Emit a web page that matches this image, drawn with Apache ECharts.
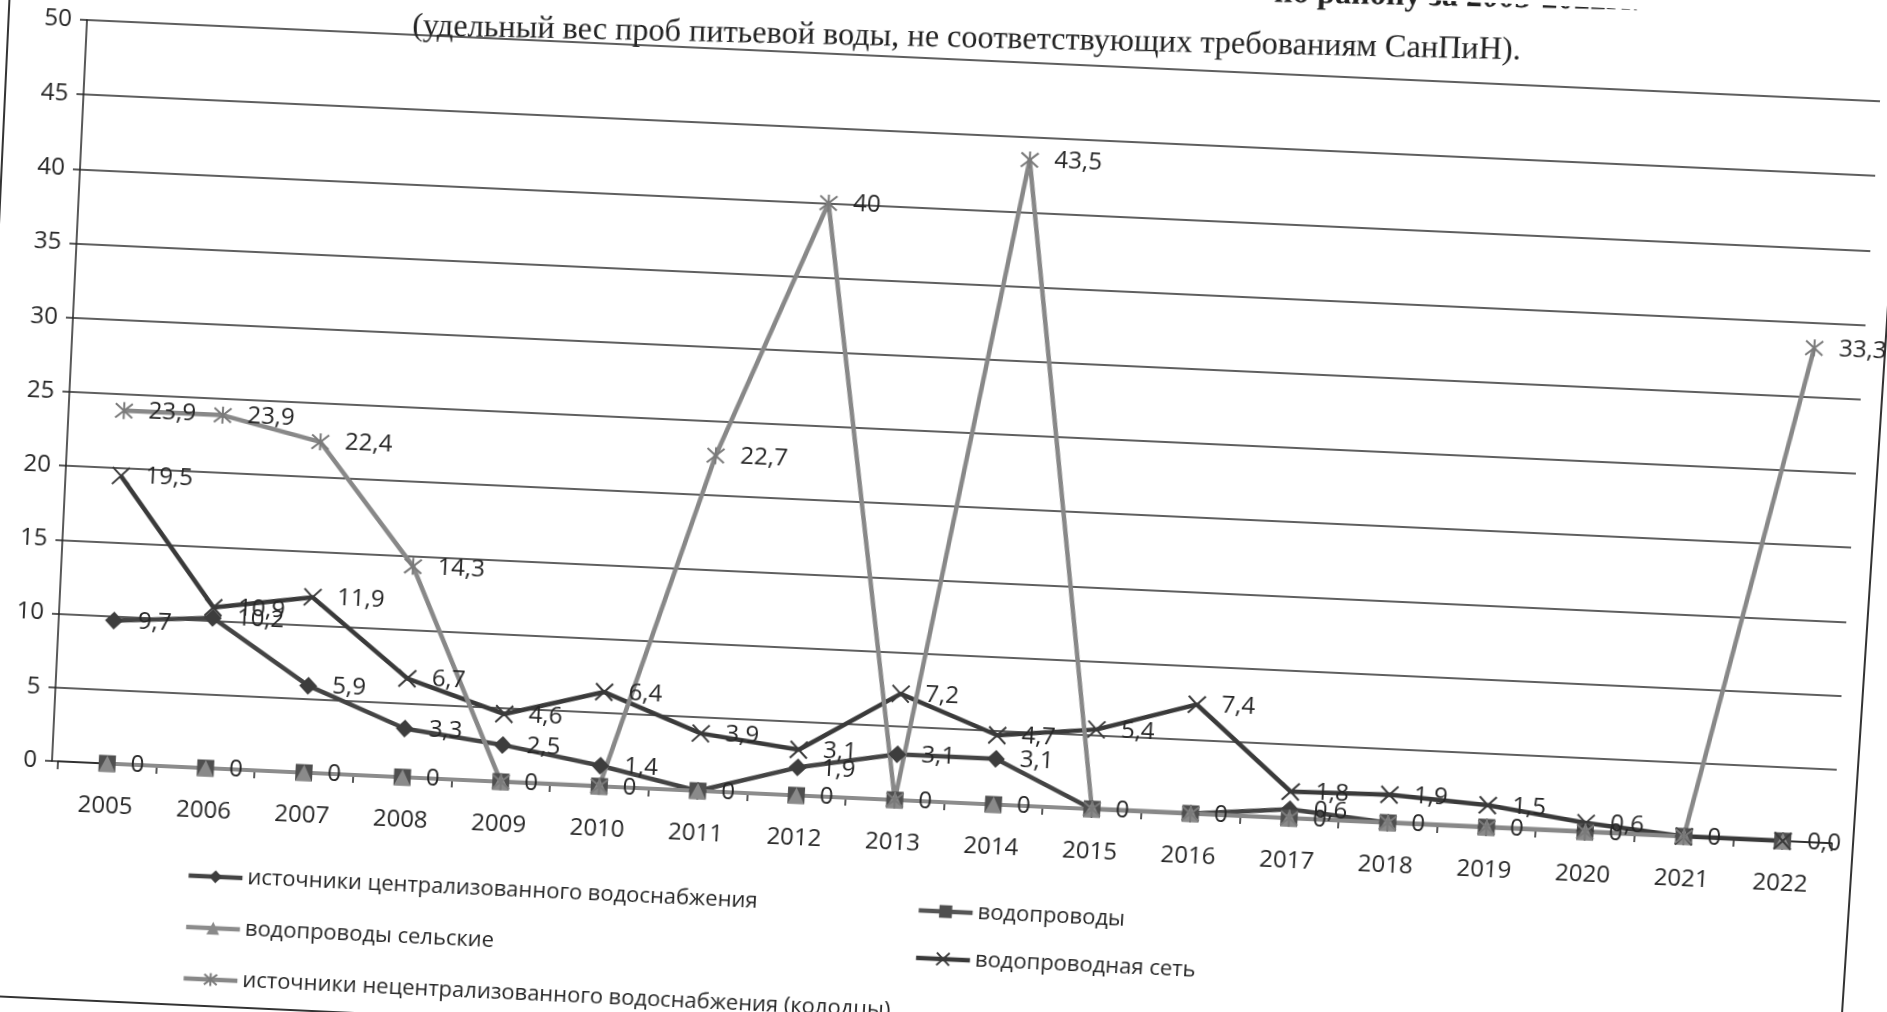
<!DOCTYPE html>
<html><head><meta charset="utf-8">
<script src="https://cdn.jsdelivr.net/npm/echarts@6/dist/echarts.min.js"></script>
<style>
html,body{margin:0;padding:0;width:1887px;height:1012px;overflow:hidden;background:#fff;}
#c{position:absolute;left:0;top:0;width:1920px;height:1100px;transform-origin:0 0;}
</style></head><body><div id="c"></div>
<script>
const years = ['2005','2006','2007','2008','2009','2010','2011','2012','2013','2014','2015','2016','2017','2018','2019','2020','2021','2022'];
const central     = [9.7,10.2,5.9,3.3,2.5,1.4,0,1.9,3.1,3.1,0,0,0.6,0,0,0,0,0];
const vodoprovody = [0,0,0,0,0,0,0,0,0,0,0,0,0,0,0,0,0,0];
const selskie     = [0,0,0,0,0,0,0,0,0,0,0,0,0,0,0,0,0,0];
const set         = [19.5,10.9,11.9,6.7,4.6,6.4,3.9,3.1,7.2,4.7,5.4,7.4,1.8,1.9,1.5,0.6,0,0];
const kolodcy     = [23.9,23.9,22.4,14.3,0,0,22.7,40,0,43.5,0,0,0,0,0,0,0,33.3];
const names = [
  'источники централизованного водоснабжения',
  'водопроводы',
  'водопроводы сельские',
  'водопроводная сеть',
  'источники нецентрализованного водоснабжения (колодцы)'
];
const titleLine1 = 'по району за 2005-2022гг.';
const titleLine2 = '(удельный вес проб питьевой воды, не соответствующих требованиям СанПиН).';

// --- page layout: a reference frame rectangle, and where the scanned page shows its corners ---
const FRAME = { left: 84, top: 80, width: 1775, height: 742 };
const frameQuadOnPage = [[87, 20], [1874, 101], [1826, 843], [52, 761]]; // TL, TR, BR, BL
const AXIS_GAP = 6; // first category sits slightly further from the value axis
const GRID = { left: FRAME.left + AXIS_GAP, top: FRAME.top, width: FRAME.width, height: FRAME.height };

function homographyCSS(src, dst) {
  const A = [], b = [];
  for (let i = 0; i < 4; i++) {
    const [x, y] = src[i], [X, Y] = dst[i];
    A.push([x, y, 1, 0, 0, 0, -x * X, -y * X]); b.push(X);
    A.push([0, 0, 0, x, y, 1, -x * Y, -y * Y]); b.push(Y);
  }
  const n = 8;
  for (let c = 0; c < n; c++) {
    let p = c;
    for (let r = c + 1; r < n; r++) if (Math.abs(A[r][c]) > Math.abs(A[p][c])) p = r;
    [A[c], A[p]] = [A[p], A[c]]; [b[c], b[p]] = [b[p], b[c]];
    for (let r = 0; r < n; r++) {
      if (r === c) continue;
      const f = A[r][c] / A[c][c];
      for (let k = c; k < n; k++) A[r][k] -= f * A[c][k];
      b[r] -= f * b[c];
    }
  }
  const h = b.map((v, i) => v / A[i][i]);
  return `matrix3d(${h[0]},${h[3]},0,${h[6]},${h[1]},${h[4]},0,${h[7]},0,0,1,0,${h[2]},${h[5]},0,1)`;
}
const srcQuad = [[FRAME.left, FRAME.top], [FRAME.left + FRAME.width, FRAME.top],
  [FRAME.left + FRAME.width, FRAME.top + FRAME.height], [FRAME.left, FRAME.top + FRAME.height]];
document.getElementById('c').style.transform = homographyCSS(srcQuad, frameQuadOnPage);

const FONT = 'Open Sans';
const fmt = v => String(v).replace('.', ',');
const lbl = (extra) => ({
  show: true, position: 'right', distance: 15,
  fontFamily: FONT, fontSize: 24, color: '#262626',
  formatter: p => extra ? extra(p) : (p.value === 0 ? '' : fmt(p.value))
});
const X_PATH = 'path://M0,0L10,10M10,0L0,10';
const AST_PATH = 'path://M0,0L10,10M10,0L0,10M5,-1L5,11';
const last = years.length - 1;

const legendText = { fontFamily: FONT, fontSize: 22, color: '#262626', lineHeight: 24 };
const chart = echarts.init(document.getElementById('c'));
chart.setOption({
  animation: false,
  backgroundColor: '#fff',
  grid: Object.assign({ containLabel: false }, GRID),
  xAxis: {
    type: 'category', data: years, boundaryGap: true,
    axisLine: { show: true, lineStyle: { color: '#222', width: 1.5 } },
    axisTick: { show: true, length: 8, lineStyle: { color: '#222', width: 1.5 } },
    axisLabel: { fontFamily: FONT, fontSize: 24, color: '#262626', margin: 31 },
    splitLine: { show: false }
  },
  yAxis: [
    { type: 'value', min: 0, max: 50, interval: 5, offset: AXIS_GAP,
      axisLine: { show: true, lineStyle: { color: '#222', width: 1.5 } },
      axisTick: { show: true, length: 7, lineStyle: { color: '#222', width: 1.5 } },
      axisLabel: { fontFamily: FONT, fontSize: 24, color: '#262626', margin: 15 },
      splitLine: { show: false } },
    { type: 'value', min: 0, max: 50, interval: 5, position: 'left', offset: 0,
      axisLine: { show: false },
      axisTick: { show: true, length: AXIS_GAP, lineStyle: { color: '#2a2a2a', width: 1.5 } },
      axisLabel: { show: false },
      splitLine: { show: true, lineStyle: { color: '#2a2a2a', width: 1.5 } } }
  ],
  legend: [
    { data: [names[0], names[2], names[4]], orient: 'vertical', left: 219, top: 914,
      itemWidth: 54, itemHeight: 16, itemGap: 28, lineStyle: { width: 4.5 },
      textStyle: legendText },
    { data: [names[1], names[3]], orient: 'vertical', left: 951, top: 915,
      itemWidth: 54, itemHeight: 16, itemGap: 24, lineStyle: { width: 4.5 },
      textStyle: legendText }
  ],
  graphic: [
    { type: 'rect', silent: true, z: -1, shape: { x: 6, y: -20, width: 1880, height: 1082 },
      style: { fill: 'none', stroke: '#333', lineWidth: 2 } },
    { type: 'text', x: 957, y: 59, rotation: 0.0234,
      style: { text: titleLine2, font: '32px "Liberation Serif"', fill: '#222', align: 'center', verticalAlign: 'middle' } },
    { type: 'text', x: 1622, y: 8, rotation: 0.0234,
      style: { text: titleLine1, font: 'bold 32px "Liberation Serif"', fill: '#222', align: 'right', verticalAlign: 'bottom' } }
  ],
  series: [
    { name: names[0], type: 'line', data: central, symbol: 'diamond', symbolSize: 18,
      lineStyle: { color: '#444', width: 4.5 }, itemStyle: { color: '#3d3d3d' },
      label: lbl() },
    { name: names[1], type: 'line', data: vodoprovody, symbol: 'rect', symbolSize: 17,
      lineStyle: { color: '#555', width: 4 }, itemStyle: { color: '#4f4f4f' },
      label: lbl(p => p.dataIndex === last ? '' : fmt(p.value)) },
    { name: names[2], type: 'line', data: selskie, symbol: 'triangle', symbolSize: 16,
      lineStyle: { color: '#8c8c8c', width: 4 }, itemStyle: { color: '#8a8a8a' },
      label: { show: false } },
    { name: names[3], type: 'line', data: set, symbol: X_PATH, symbolSize: 17,
      lineStyle: { color: '#3a3a3a', width: 4.5 },
      itemStyle: { color: '#3a3a3a', borderColor: '#3a3a3a', borderWidth: 2 },
      label: lbl(p => p.dataIndex === last ? p.value.toFixed(1).replace('.', ',') : (p.value === 0 ? '' : fmt(p.value))) },
    { name: names[4], type: 'line', data: kolodcy, symbol: AST_PATH, symbolSize: 17,
      lineStyle: { color: '#888', width: 4.5 },
      itemStyle: { color: '#7a7a7a', borderColor: '#7a7a7a', borderWidth: 2 },
      label: lbl() }
  ]
});
</script></body></html>
